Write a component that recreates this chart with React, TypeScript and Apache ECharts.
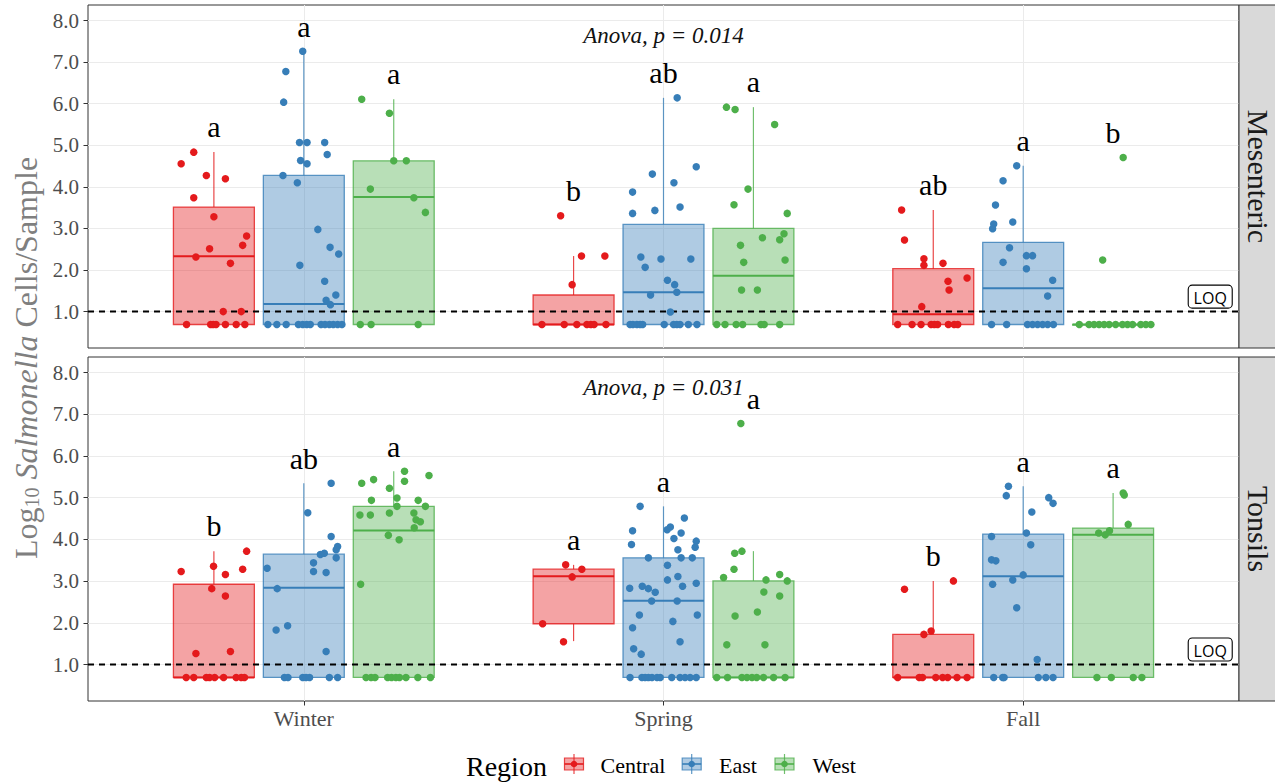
import React, { useEffect, useRef } from 'react';
import * as echarts from 'echarts';

// ---- categories and labels ----
const seasons = ['Winter', 'Spring', 'Fall'];
const regions = ['Central', 'East', 'West'];
const tissues = ['Mesenteric', 'Tonsils'];
const regionColors = ['#E41A1C', '#377EB8', '#4DAF4A'];
const yTicks = [1, 2, 3, 4, 5, 6, 7, 8];
const seasonTicks = [1, 2, 3];
const LOQ = 1.0;
const anovaLabels = ['Anova, p = 0.014', 'Anova, p = 0.031'];
const anovaPos = [2, 7.65];
const loqLabelPos = [3.52, 1.36];

// letters per group, season-major then region
const mesentericLetters = ['a', 'a', 'a', 'b', 'ab', 'a', 'ab', 'a', 'b'];
const tonsilsLetters = ['b', 'ab', 'a', 'a', 'a', 'a', 'b', 'a', 'a'];

// box stats: [season, region, lowerWhisker, q1, median, q3, upperWhisker]
const mesentericBoxes = [
  [1, 0, 0.69, 0.69, 2.33, 3.515, 4.84],
  [1, 1, 0.69, 0.69, 1.184, 4.276, 7.263],
  [1, 2, 0.69, 0.69, 3.755, 4.628, 6.11],
  [2, 0, 0.69, 0.69, 0.69, 1.4, 2.337],
  [2, 1, 0.69, 0.69, 1.465, 3.098, 6.142],
  [2, 2, 0.69, 0.69, 1.865, 3.002, 5.918],
  [3, 0, 0.69, 0.69, 0.936, 2.033, 3.443],
  [3, 1, 0.69, 0.69, 1.561, 2.666, 4.508],
  [3, 2, 0.69, 0.69, 0.69, 0.69, 0.69],
];
const tonsilsBoxes = [
  [1, 0, 0.69, 0.69, 0.69, 2.925, 3.719],
  [1, 1, 0.69, 0.69, 2.844, 3.646, 5.346],
  [1, 2, 0.69, 0.69, 4.216, 4.793, 5.635],
  [2, 0, 1.561, 1.978, 3.117, 3.286, 3.39],
  [2, 1, 0.69, 0.69, 2.532, 3.558, 4.793],
  [2, 2, 0.69, 0.69, 0.69, 3.005, 3.719],
  [3, 0, 0.69, 0.69, 0.69, 1.722, 3.005],
  [3, 1, 0.69, 0.69, 3.117, 4.128, 5.274],
  [3, 2, 0.69, 0.69, 4.111, 4.272, 5.114],
];

// samples: [jitter, log10 cells/sample]
const mesWinterCentral = [
  [-0.091, 4.556], [-0.056, 4.836], [-0.021, 4.276], [0.032, 4.196], [-0.056, 3.739], [0.0, 3.283],
  [0.091, 2.818], [0.08, 2.594], [-0.012, 2.514], [-0.05, 2.313], [0.046, 2.161], [0.026, 1.0], [0.076, 1.0],
  [-0.076, 0.69], [-0.009, 0.69], [-0.002, 0.69], [0.006, 0.69], [0.032, 0.69], [0.062, 0.69], [0.086, 0.69],
];
const mesWinterEast = [
  [-0.003, 7.263], [-0.05, 6.774], [-0.056, 6.038], [-0.012, 5.069], [0.009, 5.069], [0.058, 5.069],
  [0.065, 4.78], [-0.009, 4.636], [0.009, 4.556], [-0.058, 4.276], [-0.018, 4.1], [0.039, 2.978],
  [0.073, 2.546], [0.097, 2.386], [-0.011, 2.113], [0.058, 1.729], [0.089, 1.4], [0.062, 1.272], [0.074, 1.168],
  [-0.1, 0.69], [-0.075, 0.69], [-0.049, 0.69], [-0.015, 0.69], [-0.003, 0.69], [0.008, 0.69], [0.018, 0.69],
  [0.048, 0.69], [0.059, 0.69], [0.071, 0.69], [0.082, 0.69], [0.094, 0.69], [0.106, 0.69],
];
const mesWinterWest = [
  [-0.089, 6.11], [-0.012, 5.773], [0.0, 4.628], [0.035, 4.628], [-0.065, 3.947], [0.056, 3.739], [0.088, 3.387],
  [-0.093, 0.69], [-0.063, 0.69], [0.068, 0.69],
];
const mesSpringCentral = [
  [-0.036, 3.307], [0.022, 2.337], [0.087, 2.337], [-0.004, 1.649],
  [-0.088, 0.69], [-0.026, 0.69], [0.009, 0.69], [0.037, 0.69], [0.048, 0.69], [0.057, 0.69], [0.09, 0.69],
];
const mesSpringEast = [
  [0.038, 6.142], [0.091, 4.484], [-0.031, 4.308], [0.029, 4.1], [-0.086, 3.875], [-0.086, 3.363], [-0.024, 3.435],
  [0.046, 3.515], [-0.063, 2.313], [-0.007, 2.265], [0.076, 2.265], [-0.051, 2.065], [0.011, 1.753], [0.031, 1.649],
  [0.037, 1.465], [-0.036, 1.4], [0.019, 0.99],
  [-0.093, 0.69], [-0.085, 0.69], [-0.074, 0.69], [-0.065, 0.69], [-0.058, 0.69], [0.002, 0.69], [0.028, 0.69],
  [0.037, 0.69], [0.046, 0.69], [0.069, 0.69], [0.093, 0.69],
];
const mesSpringWest = [
  [-0.075, 5.918], [-0.051, 5.861], [0.059, 5.501], [-0.015, 3.947], [-0.054, 3.571], [0.094, 3.363], [0.085, 2.874],
  [0.025, 2.778], [0.073, 2.73], [-0.036, 2.594], [-0.027, 2.185], [0.088, 2.241], [-0.033, 1.521], [0.011, 1.521],
  [-0.102, 0.69], [-0.079, 0.69], [-0.048, 0.69], [-0.03, 0.69], [0.021, 0.69], [0.03, 0.69], [0.073, 0.69],
];
const mesFallCentral = [
  [-0.088, 3.443], [-0.08, 2.722], [-0.026, 2.273], [-0.026, 2.113], [0.027, 2.161], [0.094, 1.809], [0.041, 1.729],
  [0.044, 1.521], [-0.032, 1.12],
  [-0.099, 0.69], [-0.059, 0.69], [-0.034, 0.69], [-0.006, 0.69], [0.003, 0.69], [0.012, 0.69], [0.042, 0.69],
  [0.058, 0.69], [0.068, 0.69],
];
const mesFallEast = [
  [-0.018, 4.508], [-0.056, 4.148], [-0.077, 3.563], [-0.029, 3.154], [-0.082, 3.106], [-0.085, 2.994], [-0.038, 2.538],
  [0.009, 2.346], [0.026, 2.346], [-0.056, 2.185], [0.009, 2.033], [0.082, 1.753], [0.068, 1.376],
  [-0.088, 0.69], [-0.046, 0.69], [0.012, 0.69], [0.026, 0.69], [0.04, 0.69], [0.054, 0.69], [0.068, 0.69], [0.084, 0.69],
];
const mesFallWest = [
  [0.028, 4.708], [-0.029, 2.241],
  [-0.094, 0.69], [-0.067, 0.69], [-0.053, 0.69], [-0.039, 0.69], [-0.025, 0.69], [-0.011, 0.69], [0.007, 0.69],
  [0.026, 0.69], [0.04, 0.69], [0.054, 0.69], [0.077, 0.69], [0.091, 0.69], [0.105, 0.69],
];

const tonWinterCentral = [
  [-0.091, 3.229], [-0.001, 3.358], [0.091, 3.719], [0.08, 3.286], [0.032, 3.157], [-0.006, 2.82], [0.032, 2.644],
  [-0.05, 1.265], [0.046, 1.313],
  [-0.077, 0.69], [-0.056, 0.69], [-0.021, 0.69], [-0.012, 0.69], [0.002, 0.69], [0.027, 0.69], [0.062, 0.69],
  [0.076, 0.69], [0.085, 0.69],
];
const tonWinterEast = [
  [0.076, 5.346], [0.011, 4.641], [0.076, 4.071], [0.094, 3.831], [0.09, 3.751], [0.09, 3.558], [0.046, 3.64],
  [0.057, 3.67], [0.027, 3.438], [-0.102, 3.31], [0.027, 3.229], [0.062, 3.205], [-0.074, 2.82], [-0.045, 1.93],
  [-0.077, 1.826], [0.062, 1.313],
  [-0.054, 0.69], [-0.044, 0.69], [-0.003, 0.69], [0.006, 0.69], [0.016, 0.69], [0.071, 0.69], [0.094, 0.69],
];
const tonWinterWest = [
  [0.03, 5.635], [0.098, 5.531], [-0.089, 5.346], [-0.056, 5.435], [0.03, 5.395], [-0.012, 5.226], [0.009, 4.994],
  [-0.062, 4.937], [0.068, 4.937], [0.009, 4.793], [0.088, 4.793], [-0.094, 4.585], [-0.065, 4.585], [-0.012, 4.633],
  [0.056, 4.633], [0.062, 4.472], [0.074, 4.424], [0.057, 4.28], [-0.015, 4.103], [0.015, 3.991], [-0.092, 2.925],
  [-0.077, 0.69], [-0.063, 0.69], [-0.052, 0.69], [-0.017, 0.69], [-0.006, 0.69], [0.006, 0.69], [0.016, 0.69],
  [0.034, 0.69], [0.067, 0.69], [0.102, 0.69],
];
const tonSpringCentral = [
  [-0.022, 3.39], [0.023, 3.286], [-0.004, 3.101], [-0.086, 1.978], [-0.028, 1.545],
];
const tonSpringEast = [
  [-0.065, 4.793], [0.058, 4.512], [0.019, 4.296], [0.01, 4.232], [-0.086, 4.208], [0.049, 4.152], [0.029, 4.023],
  [0.091, 3.959], [-0.089, 3.879], [0.088, 3.815], [0.04, 3.751], [-0.042, 3.558], [0.049, 3.558], [0.08, 3.558],
  [0.011, 3.382], [0.011, 3.029], [0.04, 3.109], [0.091, 2.949], [-0.094, 2.828], [-0.059, 2.876], [-0.042, 2.82],
  [0.053, 2.876], [-0.023, 2.732], [-0.033, 2.524], [0.038, 2.524], [-0.067, 2.187], [0.094, 2.187], [0.026, 2.034],
  [-0.086, 1.882], [0.046, 1.545], [-0.083, 1.377], [-0.062, 1.249],
  [-0.093, 0.69], [-0.06, 0.69], [-0.051, 0.69], [-0.042, 0.69], [-0.032, 0.69], [-0.018, 0.69], [-0.009, 0.69],
  [0.023, 0.69], [0.046, 0.69], [0.06, 0.69], [0.074, 0.69], [0.091, 0.69],
];
const tonSpringWest = [
  [-0.035, 6.782], [-0.052, 3.67], [-0.032, 3.719], [-0.054, 3.286], [-0.083, 3.085], [0.035, 3.029], [0.073, 3.157],
  [0.094, 3.005], [0.029, 2.74], [0.073, 2.644], [-0.051, 2.163], [0.011, 2.259], [-0.074, 1.473], [0.032, 1.473],
  [-0.102, 0.69], [-0.072, 0.69], [-0.032, 0.69], [-0.018, 0.69], [-0.004, 0.69], [0.009, 0.69], [0.028, 0.69],
  [0.056, 0.69], [0.088, 0.69],
];
const tonFallCentral = [
  [-0.08, 2.804], [0.056, 3.005], [-0.026, 1.722], [-0.006, 1.802],
  [-0.099, 0.69], [-0.039, 0.69], [-0.03, 0.69], [0.007, 0.69], [0.026, 0.69], [0.04, 0.69], [0.066, 0.69], [0.094, 0.69],
];
const tonFallEast = [
  [-0.041, 5.274], [-0.047, 5.05], [0.071, 5.002], [0.083, 4.865], [0.024, 4.657], [-0.088, 4.071], [0.009, 4.152],
  [0.021, 3.871], [-0.088, 3.51], [-0.076, 3.486], [0.0, 3.149], [-0.029, 3.029], [-0.085, 2.925], [-0.018, 2.363],
  [0.039, 1.12],
  [-0.082, 0.69], [-0.057, 0.69], [-0.053, 0.69], [0.042, 0.69], [0.063, 0.69], [0.083, 0.69],
];
const tonFallWest = [
  [0.028, 5.114], [0.031, 5.066], [0.042, 4.36], [-0.04, 4.152], [-0.022, 4.11], [-0.01, 4.208],
  [-0.045, 0.69], [-0.005, 0.69], [0.056, 0.69], [0.08, 0.69],
];

// groups[tissue][season][region]
const groups = [
  [
    [mesWinterCentral, mesWinterEast, mesWinterWest],
    [mesSpringCentral, mesSpringEast, mesSpringWest],
    [mesFallCentral, mesFallEast, mesFallWest],
  ],
  [
    [tonWinterCentral, tonWinterEast, tonWinterWest],
    [tonSpringCentral, tonSpringEast, tonSpringWest],
    [tonFallCentral, tonFallEast, tonFallWest],
  ],
];
const boxesByTissue = [mesentericBoxes, tonsilsBoxes];
const lettersByTissue = [mesentericLetters, tonsilsLetters];

// ---- layout / style ----
const SERIF = '"Liberation Serif", "Times New Roman", serif';
const SANS = '"Open Sans", "DejaVu Sans", sans-serif';
const DODGE = 0.25;
const HALF_BOX = 0.1125;
const LETTER_GAP = 0.365;
const PANEL_LEFT = 88;
const PANEL_WIDTH = 1151;
const panels = [
  { top: 5, height: 343 },
  { top: 357, height: 344 },
];

function rgba(hex: string, a: number) {
  const n = parseInt(hex.slice(1), 16);
  return `rgba(${(n >> 16) & 255},${(n >> 8) & 255},${n & 255},${a})`;
}

function renderBox(_params: any, api: any) {
  const season = api.value(0);
  const region = api.value(1);
  const lo = api.value(2);
  const q1 = api.value(3);
  const med = api.value(4);
  const q3 = api.value(5);
  const hi = api.value(6);
  const xc = season + (region - 1) * DODGE;
  const color = regionColors[region];
  const tl = api.coord([xc - HALF_BOX, q3]);
  const br = api.coord([xc + HALF_BOX, q1]);
  const top = api.coord([xc, hi]);
  const bot = api.coord([xc, lo]);
  const mid = api.coord([xc, med]);
  const line = rgba(color, 0.8);
  return {
    type: 'group',
    children: [
      { type: 'line', shape: { x1: top[0], y1: top[1], x2: top[0], y2: tl[1] }, style: { stroke: line, lineWidth: 1.2 } },
      { type: 'line', shape: { x1: bot[0], y1: br[1], x2: bot[0], y2: bot[1] }, style: { stroke: line, lineWidth: 1.2 } },
      {
        type: 'rect',
        shape: { x: tl[0], y: tl[1], width: br[0] - tl[0], height: Math.max(br[1] - tl[1], 0.5) },
        style: { fill: rgba(color, 0.4), stroke: line, lineWidth: 1.3 },
      },
      { type: 'line', shape: { x1: tl[0], y1: mid[1], x2: br[0], y2: mid[1] }, style: { stroke: color, lineWidth: 2 } },
    ],
  };
}

function renderLoqLine(_params: any, api: any) {
  const a = api.coord([api.value(0), api.value(2)]);
  const b = api.coord([api.value(1), api.value(2)]);
  return {
    type: 'line',
    shape: { x1: a[0], y1: a[1], x2: b[0], y2: b[1] },
    style: { stroke: '#000', lineWidth: 2, lineDash: [6, 5] },
  };
}

function textRenderer(texts: string[], font: any) {
  return (params: any, api: any) => {
    const p = api.coord([api.value(0), api.value(1)]);
    return {
      type: 'text',
      x: p[0],
      y: p[1] + (font.dy || 0),
      style: {
        text: texts[params.dataIndex],
        fontSize: font.size,
        fontFamily: SERIF,
        fontStyle: font.italic ? 'italic' : 'normal',
        fill: font.color || '#000',
        align: 'center',
        verticalAlign: 'middle',
        textAlign: 'center',
        textVerticalAlign: 'middle',
      },
    };
  };
}

function renderLoqLabel(_params: any, api: any) {
  const p = api.coord([api.value(0), api.value(1)]);
  const w = 44;
  const h = 23;
  return {
    type: 'group',
    children: [
      {
        type: 'rect',
        shape: { x: p[0] - w / 2, y: p[1] - h / 2, width: w, height: h, r: 4 },
        style: { fill: '#fff', stroke: '#000', lineWidth: 1.1 },
      },
      {
        type: 'text',
        x: p[0],
        y: p[1] + 1,
        style: {
          text: 'LOQ', fontSize: 16, fontFamily: SANS, fill: '#000',
          align: 'center', verticalAlign: 'middle', textAlign: 'center', textVerticalAlign: 'middle',
        },
      },
    ],
  };
}

function buildOption() {
  const grid = panels.map((p) => ({
    left: PANEL_LEFT, top: p.top, width: PANEL_WIDTH, height: p.height,
    show: true, borderColor: '#333', borderWidth: 1, backgroundColor: '#fff',
    containLabel: false, outerBoundsMode: 'none',
  }));

  const xAxis = tissues.map((_, t) => ({
    type: 'value', gridIndex: t, min: 0.4, max: 3.6,
    axisLine: { show: false },
    axisTick: { show: t === 1, customValues: seasonTicks, length: 4.5, lineStyle: { color: '#333', width: 1 } },
    axisLabel: {
      show: t === 1, customValues: seasonTicks, margin: 6,
      formatter: (v: number) => seasons[Math.round(v) - 1],
      fontSize: 22, fontFamily: SERIF, color: '#4d4d4d',
    },
    splitLine: { show: true, lineStyle: { color: '#ebebeb', width: 1 } },
  }));

  const yAxis = tissues.map((_, t) => ({
    type: 'value', gridIndex: t, min: 0.125, max: 8.375,
    axisLine: { show: false },
    axisTick: { show: true, customValues: yTicks, length: 4.5, lineStyle: { color: '#333', width: 1 } },
    axisLabel: {
      customValues: yTicks, margin: 9,
      formatter: (v: number) => v.toFixed(1),
      fontSize: 21, fontFamily: SERIF, color: '#4d4d4d',
    },
    splitLine: { show: true, lineStyle: { color: '#ebebeb', width: 1 } },
  }));

  const series: any[] = [];
  tissues.forEach((_, t) => {
    const axes = { xAxisIndex: t, yAxisIndex: t };
    series.push({
      type: 'custom', ...axes, z: 2, silent: true,
      data: boxesByTissue[t], encode: { x: 0, y: [2, 3, 4, 5, 6] }, renderItem: renderBox,
    });
    series.push({
      type: 'custom', ...axes, z: 3, silent: true,
      data: [[0.4, 3.6, LOQ]], encode: { x: [0, 1], y: 2 }, renderItem: renderLoqLine,
    });
    regions.forEach((region, r) => {
      const data: number[][] = [];
      seasons.forEach((_s, s) => {
        groups[t][s][r].forEach(([dx, v]) => data.push([s + 1 + (r - 1) * DODGE + dx, v]));
      });
      series.push({
        type: 'scatter', name: region, ...axes, z: 4, symbol: 'circle', symbolSize: 7.5,
        itemStyle: { color: regionColors[r], opacity: 1 }, data,
      });
    });
    // group letters sit above the highest sample of each group
    const letterData: number[][] = [];
    seasons.forEach((_s, s) => {
      regions.forEach((_r, r) => {
        const top = Math.max(...groups[t][s][r].map((d) => d[1]));
        letterData.push([s + 1 + (r - 1) * DODGE, top + LETTER_GAP]);
      });
    });
    series.push({
      type: 'custom', ...axes, z: 5, silent: true, data: letterData, encode: { x: 0, y: 1 },
      renderItem: textRenderer(lettersByTissue[t], { size: 30, dy: -10 }),
    });
    series.push({
      type: 'custom', ...axes, z: 5, silent: true, data: [anovaPos], encode: { x: 0, y: 1 },
      renderItem: textRenderer([anovaLabels[t]], { size: 23, italic: true, color: '#111' }),
    });
    series.push({
      type: 'custom', ...axes, z: 5, silent: true, data: [loqLabelPos], encode: { x: 0, y: 1 },
      renderItem: renderLoqLabel,
    });
  });

  const graphic: any[] = [];
  // facet strips
  tissues.forEach((name, t) => {
    const p = panels[t];
    graphic.push({
      type: 'rect', z: 10,
      shape: { x: PANEL_LEFT + PANEL_WIDTH, y: p.top, width: 40, height: p.height },
      style: { fill: '#d9d9d9', stroke: '#333', lineWidth: 1 },
    });
    graphic.push({
      type: 'text', z: 11, x: 1258, y: p.top + p.height / 2, rotation: -Math.PI / 2,
      style: {
        text: name, fontSize: 30, fontFamily: SERIF, fill: '#1a1a1a',
        align: 'center', verticalAlign: 'middle', textAlign: 'center', textVerticalAlign: 'middle',
      },
    });
  });
  // y axis title
  graphic.push({
    type: 'text', z: 11, x: 26, y: 358, rotation: Math.PI / 2,
    style: {
      text: '{n|Log}{s|10}{n| }{i|Salmonella}{n| Cells/Sample}',
      align: 'center', verticalAlign: 'middle', textAlign: 'center', textVerticalAlign: 'middle',
      rich: {
        n: { fontSize: 32, lineHeight: 32, fontFamily: SERIF, fill: '#7f7f7f', color: '#7f7f7f' },
        s: { fontSize: 20, lineHeight: 12, fontFamily: SERIF, fill: '#7f7f7f', color: '#7f7f7f', verticalAlign: 'bottom' },
        i: { fontSize: 32, lineHeight: 32, fontFamily: SERIF, fontStyle: 'italic', fill: '#7f7f7f', color: '#7f7f7f' },
      },
    },
  });
  // legend
  graphic.push({
    type: 'text', z: 11, x: 466, y: 766.5,
    style: { text: 'Region', fontSize: 28, fontFamily: SERIF, fill: '#000', align: 'left', verticalAlign: 'middle', textAlign: 'left', textVerticalAlign: 'middle' },
  });
  const keyX = [574, 691.7, 784.5];
  const keyTextX = [600.5, 719, 812.5];
  regions.forEach((name, r) => {
    const c = regionColors[r];
    const cx = keyX[r];
    graphic.push({
      type: 'group', z: 11,
      children: [
        { type: 'line', shape: { x1: cx, y1: 754, x2: cx, y2: 774 }, style: { stroke: rgba(c, 0.8), lineWidth: 1.2 } },
        { type: 'rect', shape: { x: cx - 9.5, y: 758, width: 19, height: 12 }, style: { fill: rgba(c, 0.4), stroke: rgba(c, 0.8), lineWidth: 1.2 } },
        { type: 'line', shape: { x1: cx - 9.5, y1: 764, x2: cx + 9.5, y2: 764 }, style: { stroke: c, lineWidth: 1.6 } },
        { type: 'circle', shape: { cx, cy: 764, r: 3.3 }, style: { fill: c } },
      ],
    });
    graphic.push({
      type: 'text', z: 11, x: keyTextX[r], y: 765.5,
      style: { text: name, fontSize: 22, fontFamily: SERIF, fill: '#000', align: 'left', verticalAlign: 'middle', textAlign: 'left', textVerticalAlign: 'middle' },
    });
  });

  return {
    animation: false,
    backgroundColor: '#fff',
    grid, xAxis, yAxis, series, graphic,
  };
}

export default function App() {
  const ref = useRef<HTMLDivElement>(null);
  useEffect(() => {
    const chart = echarts.init(ref.current as HTMLDivElement, null, { renderer: 'svg' });
    chart.setOption(buildOption() as any);
    return () => chart.dispose();
  }, []);
  return (
    <div
      ref={ref}
      style={{ position: 'fixed', left: 0, top: 0, width: 1275, height: 784, background: '#fff' }}
    />
  );
}
